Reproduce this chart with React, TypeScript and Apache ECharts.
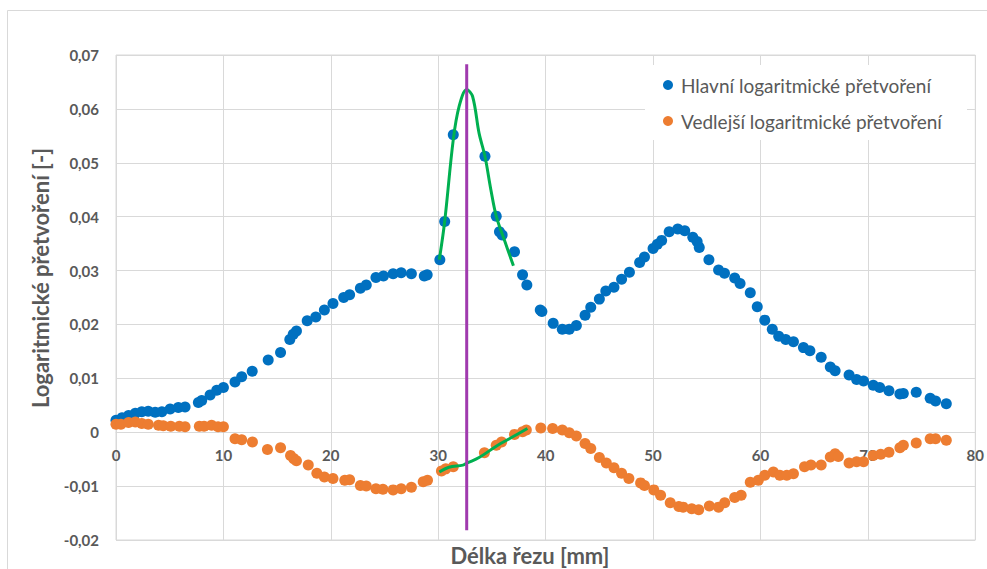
import React, { useEffect, useRef } from "react";
import * as echarts from "echarts";

const seriesMainName = "Hlavní logaritmické přetvoření";
const seriesMinorName = "Vedlejší logaritmické přetvoření";
const xAxisTitle = "Délka řezu [mm]";
const yAxisTitle = "Logaritmické přetvoření [-]";

const mainStrain: [number, number][] = [
  [0.0, 0.0022], [0.56, 0.0027], [1.17, 0.0031], [1.8, 0.0035], [2.4, 0.0038], [3.0, 0.0039],
  [3.65, 0.0037], [4.27, 0.0038], [5.04, 0.0043], [5.8, 0.0046], [6.43, 0.0047], [7.67, 0.0055],
  [7.98, 0.0059], [8.76, 0.0069], [9.38, 0.0078], [10.0, 0.0083], [11.08, 0.0093], [11.7, 0.0103],
  [12.68, 0.0113], [14.17, 0.0134], [15.32, 0.0148], [16.18, 0.0172], [16.5, 0.0182], [16.8, 0.0188],
  [17.8, 0.0207], [18.6, 0.0214], [19.4, 0.0227], [20.2, 0.0239], [21.2, 0.025], [21.75, 0.0255],
  [22.75, 0.0267], [23.3, 0.0273], [24.2, 0.0287], [24.9, 0.029], [25.8, 0.0294], [26.55, 0.0296],
  [27.5, 0.0294], [28.7, 0.029], [28.97, 0.0292], [30.15, 0.032], [30.6, 0.0391], [31.4, 0.0552],
  [34.35, 0.0512], [35.4, 0.0401], [35.7, 0.0372], [35.95, 0.0366], [37.1, 0.0335], [37.85, 0.0292],
  [38.25, 0.0273], [39.5, 0.0227], [39.65, 0.0224], [40.7, 0.0202], [41.55, 0.0191], [42.2, 0.0191],
  [42.86, 0.0198], [43.67, 0.0217], [44.2, 0.0232], [45.0, 0.0247], [45.6, 0.0262], [46.36, 0.0269],
  [47.07, 0.0284], [47.8, 0.0297], [48.75, 0.0315], [49.2, 0.0325], [50.0, 0.0341], [50.4, 0.0349],
  [50.8, 0.0356], [51.5, 0.0372], [52.3, 0.0377], [52.95, 0.0374], [53.7, 0.0362], [54.1, 0.0354],
  [54.3, 0.0343], [55.2, 0.032], [56.1, 0.0301], [56.65, 0.0295], [57.6, 0.0286], [58.1, 0.0276],
  [59.05, 0.0259], [59.7, 0.0233], [60.4, 0.0208], [61.1, 0.0191], [61.7, 0.0178], [62.35, 0.0172],
  [63.07, 0.0168], [64.0, 0.0157], [64.6, 0.0151], [65.65, 0.0139], [66.5, 0.0121], [66.95, 0.0114],
  [68.25, 0.0106], [68.95, 0.0098], [69.6, 0.0095], [70.5, 0.0087], [71.1, 0.0083], [71.96, 0.0077],
  [72.98, 0.0071], [73.3, 0.0072], [74.5, 0.0074], [75.8, 0.0063], [76.3, 0.0058], [77.3, 0.0053],
];

const minorStrain: [number, number][] = [
  [0.0, 0.0015], [0.46, 0.0015], [1.17, 0.0018], [1.8, 0.0019], [2.4, 0.0016], [3.0, 0.0015],
  [3.96, 0.0013], [4.4, 0.0012], [5.1, 0.0011], [5.9, 0.0011], [6.43, 0.001], [7.76, 0.0011],
  [8.2, 0.0011], [8.9, 0.0013], [9.5, 0.001], [10.0, 0.001], [11.08, -0.0012], [11.7, -0.0014],
  [12.7, -0.0018], [14.1, -0.0032], [15.32, -0.0029], [16.25, -0.0043], [16.55, -0.0049], [16.8, -0.0053],
  [17.9, -0.0061], [18.7, -0.0076], [19.4, -0.0083], [20.2, -0.0086], [21.3, -0.0089], [21.75, -0.0088],
  [22.75, -0.0099], [23.3, -0.01], [24.2, -0.0105], [24.85, -0.0106], [25.8, -0.0107], [26.55, -0.0105],
  [27.5, -0.0102], [28.6, -0.0092], [29.0, -0.0089], [30.3, -0.0072], [30.7, -0.0068], [31.4, -0.0064],
  [34.3, -0.0038], [35.4, -0.0024], [35.9, -0.0018], [37.1, -0.0004], [37.85, 0.0001], [38.2, 0.0004],
  [39.55, 0.0008], [40.65, 0.0007], [41.55, 0.0004], [42.2, -0.0001], [42.86, -0.0007], [43.67, -0.0021],
  [44.2, -0.003], [45.0, -0.0047], [45.65, -0.0057], [46.36, -0.0066], [47.07, -0.0076], [47.75, -0.0086],
  [48.84, -0.0094], [49.2, -0.0099], [50.07, -0.0107], [50.7, -0.0117], [51.6, -0.0131], [52.4, -0.0138],
  [52.8, -0.0139], [53.6, -0.0142], [54.25, -0.0144], [55.24, -0.0137], [56.1, -0.0139], [56.67, -0.0131],
  [57.6, -0.0121], [58.2, -0.0117], [59.05, -0.0093], [59.8, -0.0089], [60.4, -0.008], [61.2, -0.0074],
  [61.8, -0.008], [62.45, -0.008], [63.07, -0.0077], [64.1, -0.0064], [64.7, -0.0061], [65.65, -0.0061],
  [66.5, -0.0046], [66.95, -0.004], [67.25, -0.0045], [68.25, -0.0057], [68.95, -0.0055], [69.6, -0.0055],
  [70.5, -0.0043], [71.2, -0.0041], [71.96, -0.0037], [72.98, -0.0029], [73.3, -0.0024], [74.5, -0.002],
  [75.8, -0.0012], [76.3, -0.0012], [77.3, -0.0015],
];

const mainFit: [number, number][] = [
  [30.1, 0.032], [30.6, 0.0391], [31.4, 0.0543], [31.95, 0.0605], [32.65, 0.0636], [33.2, 0.0623],
  [33.8, 0.0555], [34.35, 0.0512], [34.9, 0.045], [35.4, 0.0401], [36.15, 0.0357], [37.0, 0.0309],
];

const minorFit: [number, number][] = [
  [30.1, -0.0074], [31.0, -0.0065], [32.3, -0.0061], [32.7, -0.0057], [33.8, -0.0047],
  [35.4, -0.0026], [36.9, -0.0009], [38.3, 0.0007],
];

const markerLine: [number, number][] = [
  [32.65, 0.0683], [32.65, -0.0182],
];

const FONT = "Lato, 'Noto Sans', sans-serif";
const GRAY = "#595959";

export default function App() {
  const ref = useRef<HTMLDivElement>(null);
  useEffect(() => {
    if (!ref.current) return;
    const chart = echarts.init(ref.current, undefined, { renderer: "svg" });
    chart.setOption({
      animation: false,
      backgroundColor: "#ffffff",
      grid: {
        left: 116,
        top: 55,
        right: 10,
        bottom: 29,
        show: true,
        borderColor: "#D9D9D9",
        borderWidth: 1,
        containLabel: false,
      },
      xAxis: {
        type: "value",
        min: 0,
        max: 80,
        interval: 10,
        position: "bottom",
        offset: -107.8,
        axisLine: { show: true, onZero: false, lineStyle: { color: "#D9D9D9", width: 1 } },
        axisTick: { show: false },
        axisLabel: {
          color: GRAY,
          fontFamily: FONT,
          fontWeight: "bold",
          fontSize: 15,
          margin: 15,
        },
        splitLine: { show: true, lineStyle: { color: "#D9D9D9", width: 1 } },
      },
      yAxis: {
        type: "value",
        min: -0.02,
        max: 0.07,
        interval: 0.01,
        axisLine: { show: false, onZero: false },
        axisTick: { show: false },
        axisLabel: {
          color: GRAY,
          fontFamily: FONT,
          fontWeight: "bold",
          fontSize: 15,
          margin: 17,
          formatter: (v: number) => (Math.abs(v) < 1e-9 ? "0" : v.toFixed(2).replace(".", ",")),
        },
        splitLine: { show: true, lineStyle: { color: "#D9D9D9", width: 1 } },
      },
      legend: {
        data: [seriesMainName, seriesMinorName],
        orient: "vertical",
        left: 663,
        top: 74,
        itemWidth: 10,
        itemHeight: 10,
        itemGap: 14,
        icon: "circle",
        textStyle: { color: GRAY, fontFamily: FONT, fontSize: 19, lineHeight: 22, padding: [0, 0, 0, 3] },
        padding: 0,
        z: 5,
      },
      graphic: [
        {
          type: "rect",
          z: 3,
          shape: { x: 7.5, y: 10.5, width: 1000, height: 620 },
          style: { fill: "none", stroke: "#D9D9D9", lineWidth: 1 },
          silent: true,
        },
        {
          type: "rect",
          z: 3,
          shape: { x: 645, y: 65, width: 322, height: 75 },
          style: { fill: "#ffffff" },
          silent: true,
        },
        {
          type: "text",
          z: 5,
          x: 530,
          y: 555,
          style: {
            text: xAxisTitle,
            fill: GRAY,
            font: `bold 22px ${FONT}`,
            textAlign: "center",
            textVerticalAlign: "middle",
          },
        },
        {
          type: "text",
          z: 5,
          x: 40,
          y: 278,
          rotation: Math.PI / 2,
          style: {
            text: yAxisTitle,
            fill: GRAY,
            font: `bold 22px ${FONT}`,
            textAlign: "center",
            textVerticalAlign: "middle",
          },
        },
      ],
      series: [
        {
          name: seriesMainName,
          type: "scatter",
          data: mainStrain,
          symbol: "circle",
          symbolSize: 11,
          itemStyle: { color: "#0070C0", opacity: 1 },
          z: 2,
        },
        {
          name: seriesMinorName,
          type: "scatter",
          data: minorStrain,
          symbol: "circle",
          symbolSize: 11,
          itemStyle: { color: "#ED7D31", opacity: 1 },
          z: 2,
        },
        {
          name: "fitMain",
          type: "line",
          data: mainFit,
          smooth: 0.35,
          showSymbol: false,
          symbol: "none",
          lineStyle: { color: "#00B050", width: 3 },
          z: 4,
        },
        {
          name: "fitMinor",
          type: "line",
          data: minorFit,
          smooth: 0.35,
          showSymbol: false,
          symbol: "none",
          lineStyle: { color: "#00B050", width: 3 },
          z: 4,
        },
        {
          name: "marker",
          type: "line",
          data: markerLine,
          showSymbol: false,
          symbol: "none",
          lineStyle: { color: "#A03AAE", width: 3 },
          z: 4,
        },
      ],
    });
    return () => chart.dispose();
  }, []);
  return (
    <div
      ref={ref}
      style={{ position: "absolute", left: 0, top: 0, width: 987, height: 569 }}
    />
  );
}
